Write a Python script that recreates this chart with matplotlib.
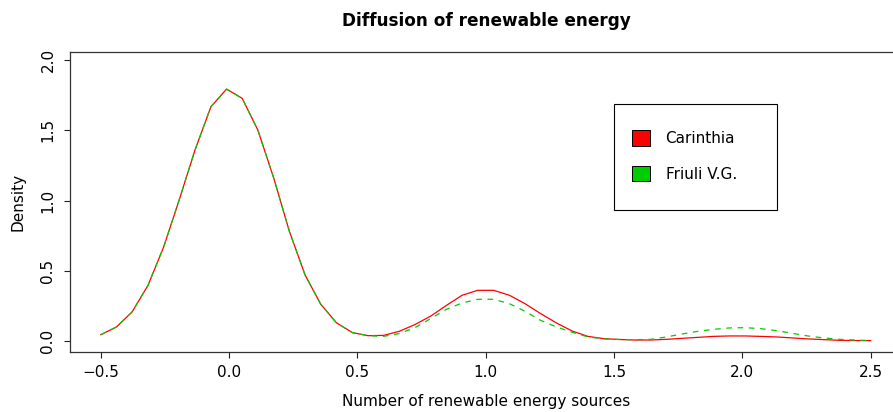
import matplotlib
matplotlib.use('Agg')
import matplotlib.pyplot as plt
from matplotlib.patches import Patch, Rectangle

plt.rcParams['font.family'] = ['DejaVu Sans']

# density grid (50 points from -0.5 to 2.5)
x_grid = [-0.5, -0.439, -0.378, -0.316, -0.255, -0.194, -0.133, -0.071, -0.010, 0.051,
          0.112, 0.173, 0.235, 0.296, 0.357, 0.418, 0.480, 0.541, 0.602, 0.663,
          0.724, 0.786, 0.847, 0.908, 0.969, 1.031, 1.092, 1.153, 1.214, 1.276,
          1.337, 1.398, 1.459, 1.520, 1.582, 1.643, 1.704, 1.765, 1.827, 1.888,
          1.949, 2.010, 2.071, 2.133, 2.194, 2.255, 2.316, 2.378, 2.439, 2.5]

carinthia = [0.045, 0.100, 0.207, 0.397, 0.670, 1.008, 1.360, 1.668, 1.794, 1.728,
             1.502, 1.165, 0.780, 0.470, 0.262, 0.130, 0.060, 0.038, 0.040, 0.069,
             0.117, 0.178, 0.254, 0.326, 0.361, 0.361, 0.326, 0.266, 0.195, 0.128,
             0.071, 0.033, 0.017, 0.011, 0.007, 0.007, 0.012, 0.019, 0.026, 0.033,
             0.036, 0.036, 0.033, 0.029, 0.022, 0.015, 0.010, 0.005, 0.003, 0.003]

friuli = [0.045, 0.100, 0.207, 0.397, 0.670, 1.008, 1.360, 1.668, 1.794, 1.728,
          1.502, 1.165, 0.780, 0.470, 0.262, 0.130, 0.060, 0.038, 0.033, 0.053,
          0.095, 0.160, 0.226, 0.271, 0.297, 0.297, 0.266, 0.212, 0.147, 0.100,
          0.062, 0.029, 0.015, 0.011, 0.009, 0.012, 0.029, 0.050, 0.069, 0.083,
          0.093, 0.095, 0.088, 0.074, 0.055, 0.036, 0.022, 0.012, 0.007, 0.003]

labels = ['Carinthia', 'Friuli V.G.']
colors = ['#FF0000', '#00CD00']

fig = plt.figure(figsize=(8.93, 4.12), dpi=100)
ax = fig.add_axes([0.0784, 0.1464, 0.9311, 0.728])

ax.plot(x_grid, carinthia, color=colors[0], lw=0.9)
ax.plot(x_grid, friuli, color=colors[1], lw=0.9, dashes=(4.5, 4.5))

ax.set_xlim(-0.62, 2.62)
ax.set_ylim(-0.076, 2.06)
ax.set_xticks([-0.5, 0.0, 0.5, 1.0, 1.5, 2.0, 2.5])
ax.set_yticks([0.0, 0.5, 1.0, 1.5, 2.0])
ax.set_xticklabels(['\u22120.5', '0.0', '0.5', '1.0', '1.5', '2.0', '2.5'])
ax.set_yticklabels(['0.0', '0.5', '1.0', '1.5', '2.0'], rotation=90, va='center')
ax.tick_params(axis='both', length=4.5, width=0.8, labelsize=11, color='#222222')
ax.tick_params(axis='x', pad=5)
ax.tick_params(axis='y', pad=6)
for s in ax.spines.values():
    s.set_linewidth(0.9)
    s.set_color('#333333')

ax.set_xlabel('Number of renewable energy sources', fontsize=11, labelpad=10)
ax.set_ylabel('Density', fontsize=11, labelpad=11)
fig.text(0.5444, 0.948, 'Diffusion of renewable energy', ha='center', va='center',
         fontsize=12.2, fontweight='bold')

# legend box (R style)
ax.add_patch(Rectangle((0.6876, 0.4903), 0.1822, 0.2573, transform=fig.transFigure,
                       facecolor='white', edgecolor='black', lw=0.8, zorder=5, clip_on=False))
handles = [Patch(facecolor=c, edgecolor='black', lw=0.7) for c in colors]
leg = ax.legend(handles, labels, loc='upper left', bbox_to_anchor=(632 / 893, 1 - 130.5 / 412),
                bbox_transform=fig.transFigure, frameon=False, fontsize=11,
                borderpad=0, borderaxespad=0, handlelength=1.2, handleheight=1.2,
                handletextpad=1.0, labelspacing=1.25)
leg.set_zorder(6)

fig.savefig('out.png', dpi=100)
